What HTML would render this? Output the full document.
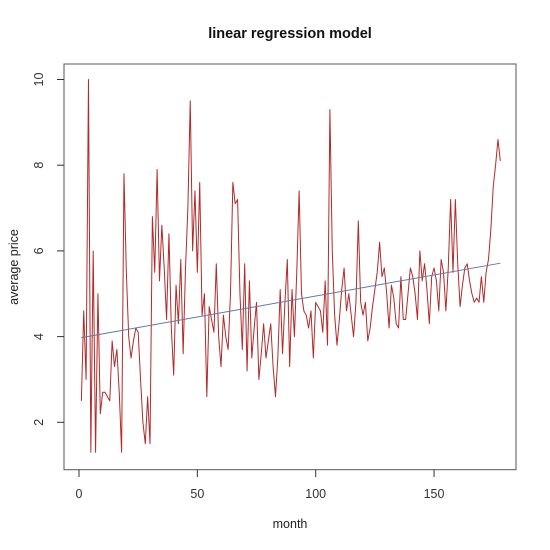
<!DOCTYPE html>
<html><head><meta charset="utf-8"><style>
body{margin:0;background:#fff}
svg{display:block;font-family:"Liberation Sans",Arial,sans-serif}
</style></head><body>
<svg id="chart" width="550" height="550" viewBox="0 0 550 550">
<rect x="0" y="0" width="550" height="550" fill="#fff"/>
<text x="290" y="38" text-anchor="middle" font-size="14.5" font-weight="bold" fill="#111">linear regression model</text>
<text x="290" y="528" text-anchor="middle" font-size="12.5" fill="#222">month</text>
<text x="0" y="0" transform="translate(18,267) rotate(-90)" text-anchor="middle" font-size="12.5" fill="#222">average price</text>
<rect x="64" y="64" width="452" height="405.7" fill="none" stroke="#555" stroke-width="1"/>
<g id="xaxis"></g>
<g id="yaxis"></g>
<g id="series"></g>
</svg>
<script>
const prices = [2.5,4.6,3.0,10.0,1.3,6.0,1.3,5.0,2.2,2.7,2.7,2.6,2.5,3.9,3.3,3.7,2.7,1.3,7.8,5.5,
4.0,3.5,3.9,4.2,4.1,3.0,2.0,1.5,2.6,1.5,6.8,5.5,7.9,5.3,6.6,5.6,4.4,6.4,4.2,3.1,
5.2,4.3,5.8,3.6,5.6,7.0,9.5,6.0,7.4,5.5,7.6,4.5,5.0,2.6,4.7,4.4,4.1,5.7,4.0,3.3,
4.5,4.0,3.7,5.0,7.6,7.1,7.2,5.0,3.7,5.7,3.2,5.3,3.5,4.2,4.8,3.0,3.6,4.3,3.5,3.9,
4.3,3.3,2.6,3.5,5.1,3.6,4.8,5.8,3.3,5.1,4.0,5.5,7.4,5.0,4.6,4.5,4.2,4.6,3.5,4.8,
4.7,4.6,4.1,5.3,3.8,9.3,6.0,4.5,3.8,4.4,5.1,5.6,4.6,5.0,4.5,4.0,4.8,6.7,4.8,4.5,
4.8,3.9,4.2,4.7,5.1,5.5,6.2,5.4,5.6,5.0,4.2,5.2,4.9,4.3,4.2,5.4,4.4,4.4,5.0,5.6,
5.4,5.0,4.4,6.0,5.3,5.7,5.1,4.3,5.4,5.6,5.3,4.6,5.8,5.5,4.6,5.6,7.2,5.5,7.2,5.7,
4.7,5.2,5.6,5.7,5.3,5.0,4.8,4.9,4.8,5.4,4.8,5.5,5.8,6.5,7.5,8.0,8.6,8.1];
const xTicks = [0,50,100,150];
const yTicks = [2,4,6,8,10];

const NS="http://www.w3.org/2000/svg";
function xs(v){return 79 + v*2.367;}
function ys(v){return 422.3 - (v-2)*42.85;}

const xg=document.getElementById('xaxis');
xTicks.forEach(t=>{
  const l=document.createElementNS(NS,'line');
  l.setAttribute('x1',xs(t));l.setAttribute('x2',xs(t));
  l.setAttribute('y1',469.7);l.setAttribute('y2',477);
  l.setAttribute('stroke','#333');
  
  
  xg.appendChild(l);
  const tx=document.createElementNS(NS,'text');
  tx.setAttribute('x',xs(t));tx.setAttribute('y',498);
  tx.setAttribute('text-anchor','middle');tx.setAttribute('font-size','12.5');tx.setAttribute('fill','#333');
  tx.textContent=t;
  
  
  xg.appendChild(tx);
});
const yg=document.getElementById('yaxis');
yTicks.forEach(t=>{
  const l=document.createElementNS(NS,'line');
  l.setAttribute('x1',57);l.setAttribute('x2',64);
  l.setAttribute('y1',ys(t));l.setAttribute('y2',ys(t));
  l.setAttribute('stroke','#333');
  
  
  yg.appendChild(l);
  const tx=document.createElementNS(NS,'text');
  tx.setAttribute('transform','translate(43,'+ys(t)+') rotate(-90)');
  tx.setAttribute('text-anchor','middle');tx.setAttribute('font-size','12.5');tx.setAttribute('fill','#333');
  tx.textContent=t;
  
  
  yg.appendChild(tx);
});

const sg=document.getElementById('series');
const pts=prices.map((v,i)=>xs(i+1).toFixed(2)+','+ys(v).toFixed(2)).join(' ');
const pl=document.createElementNS(NS,'polyline');
pl.setAttribute('points',pts);
pl.setAttribute('fill','none');pl.setAttribute('stroke','#b22a2a');pl.setAttribute('stroke-width','1');
pl.setAttribute('stroke-linejoin','round');


sg.appendChild(pl);

// least squares fit
const n=prices.length;
let sx=0,sy=0,sxx=0,sxy=0;
prices.forEach((v,i)=>{const x=i+1;sx+=x;sy+=v;sxx+=x*x;sxy+=x*v;});
const b=(n*sxy-sx*sy)/(n*sxx-sx*sx), a=(sy-b*sx)/n;
const rl=document.createElementNS(NS,'line');
rl.setAttribute('x1',xs(1));rl.setAttribute('y1',ys(a+b));
rl.setAttribute('x2',xs(n));rl.setAttribute('y2',ys(a+b*n));
rl.setAttribute('stroke','#5f7aa6');rl.setAttribute('stroke-width','1');


sg.appendChild(rl);
</script>
</body></html>
